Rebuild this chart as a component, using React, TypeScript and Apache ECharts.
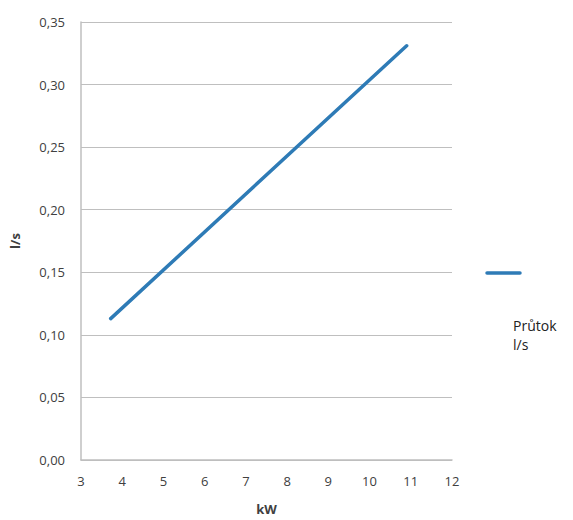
import React, { useEffect, useRef } from "react";
import * as echarts from "echarts";

const xValues = [3.72, 10.9];
const yValues = [0.113, 0.331];
const seriesName = "Průtok l/s";
const xAxisName = "kW";
const yAxisName = "l/s";

export default function App() {
  const ref = useRef<HTMLDivElement>(null);
  useEffect(() => {
    if (!ref.current) return;
    const chart = echarts.init(ref.current, null, { renderer: "svg" });
    const font = "'Open Sans', 'Liberation Sans', sans-serif";
    chart.setOption({
      animation: false,
      backgroundColor: "#ffffff",
      grid: { left: 79, right: 121, top: 22, bottom: 56 },
      xAxis: {
        type: "value",
        min: 3,
        max: 12,
        interval: 1,
        name: xAxisName,
        nameLocation: "middle",
        nameGap: 42,
        nameTextStyle: { fontFamily: font, fontWeight: "bold", fontSize: 13, color: "#404040" },
        axisLine: { show: true, lineStyle: { color: "#bfbfbf", width: 1.5 } },
        axisTick: { show: false },
        splitLine: { show: false },
        axisLabel: { fontFamily: font, fontSize: 13, color: "#404040", margin: 14 },
      },
      yAxis: {
        type: "value",
        min: 0,
        max: 0.35,
        interval: 0.05,
        name: yAxisName,
        nameLocation: "middle",
        nameGap: 60,
        nameTextStyle: { fontFamily: font, fontWeight: "bold", fontSize: 13, color: "#404040" },
        axisLine: { show: true, lineStyle: { color: "#bfbfbf", width: 1.5 } },
        axisTick: { show: false },
        splitLine: { show: true, lineStyle: { color: "#bfbfbf", width: 1 } },
        axisLabel: {
          fontFamily: font,
          fontSize: 13,
          color: "#404040",
          margin: 16,
          formatter: (v: number) => v.toFixed(2).replace(".", ","),
        },
      },
      series: [
        {
          name: seriesName,
          type: "line",
          data: xValues.map((x, i) => [x, yValues[i]]),
          showSymbol: false,
          lineStyle: { color: "#2e7bb6", width: 3.5, cap: "round" },
        },
      ],
      graphic: [
        {
          type: "line",
          shape: { x1: 487, y1: 273, x2: 520, y2: 273 },
          style: { stroke: "#2e7bb6", lineWidth: 3.5, lineCap: "round" },
        },
        {
          type: "text",
          left: 513,
          top: 316,
          style: {
            text: "Průtok\nl/s",
            fontFamily: font,
            fontSize: 14,
            lineHeight: 19,
            fill: "#222222",
          },
        },
      ],
    });
    return () => chart.dispose();
  }, []);
  return (
    <div
      ref={ref}
      style={{ position: "fixed", left: 0, top: 0, width: 573, height: 520 }}
    />
  );
}
